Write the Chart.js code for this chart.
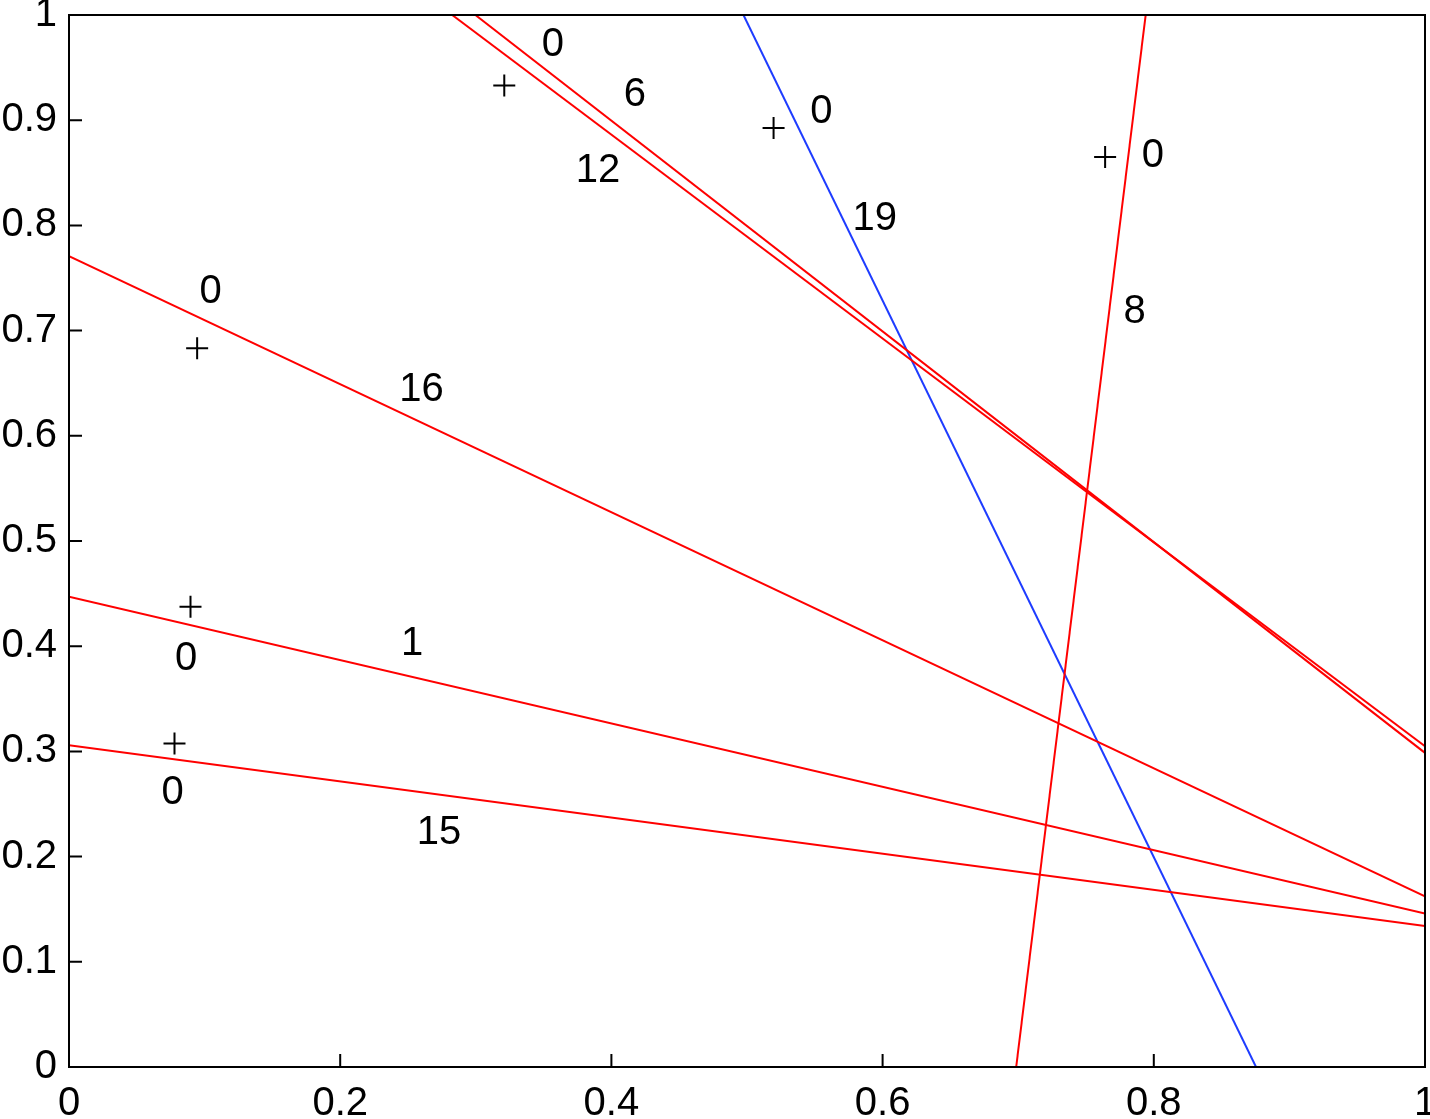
<!DOCTYPE html>
<html>
<head>
<meta charset="utf-8">
<script src="https://cdn.jsdelivr.net/npm/chart.js@4/dist/chart.umd.min.js"></script>
<style>
  body { margin: 0; background: #fff; overflow: hidden; }
  #wrap { width: 1430px; height: 1119px; overflow: hidden; }
</style>
</head>
<body>
<div id="wrap"><canvas id="chart" width="1438" height="1119"></canvas></div>
<script>
// lines (end points, data units)
const line16 = [[0, 0.7707], [1, 0.1622]];
const line1 = [[0, 0.4470], [1, 0.1460]];
const line15 = [[0, 0.3059], [1, 0.1340]];
const line12 = [[0.2826, 1], [1, 0.3050]];
const line6 = [[0.2997, 1], [1, 0.2986]];
const line8 = [[0.6985, 0], [0.7940, 1]];
const line19 = [[0.4974, 1], [0.8754, 0]];

// "+" markers
const markerX = [0.321, 0.5196, 0.7641, 0.0945, 0.0896, 0.0778];
const markerY = [0.933, 0.8926, 0.8651, 0.6833, 0.4375, 0.3075];

// text labels
const labelText = ['0', '6', '12', '0', '19', '0', '8', '0', '16', '1', '0', '0', '15'];
const labelX = [0.3487, 0.4091, 0.3738, 0.5466, 0.5778, 0.7912, 0.7777, 0.0963, 0.2436, 0.2448, 0.0781, 0.0683, 0.2564];
const labelY = [0.9741, 0.9264, 0.8549, 0.9106, 0.8092, 0.8689, 0.7203, 0.7393, 0.6461, 0.4051, 0.3908, 0.2638, 0.2250];

const xTickLabels = ['0', '0.2', '0.4', '0.6', '0.8', '1'];
const yTickLabels = ['0', '0.1', '0.2', '0.3', '0.4', '0.5', '0.6', '0.7', '0.8', '0.9', '1'];

const FONT = '"Liberation Sans", Arial, Helvetica, sans-serif';
const RED = '#ff0000';
const BLUE = '#1e3cff';

function toPts(arr) {
    return arr.map(p => ({ x: p[0], y: p[1] }));
}

function lineSet(pts, color) {
    return {
        data: toPts(pts),
        showLine: true,
        borderColor: color,
        borderWidth: 2,
        pointRadius: 0,
        fill: false
    };
}

// inward ticks, box and text labels
const extras = {
    id: 'extras',
    afterDatasetsDraw(chart) {
        const ctx = chart.ctx;
        const xs = chart.scales.x, ys = chart.scales.y;
        ctx.save();
        ctx.fillStyle = '#000';
        ctx.font = '40px ' + FONT;
        ctx.textAlign = 'left';
        ctx.textBaseline = 'middle';
        labelText.forEach((t, i) => {
            ctx.fillText(t, xs.getPixelForValue(labelX[i]), ys.getPixelForValue(labelY[i]) + 3);
        });
        ctx.restore();
    },
    afterDraw(chart) {
        const ctx = chart.ctx;
        const a = chart.chartArea;
        const xs = chart.scales.x, ys = chart.scales.y;
        ctx.save();
        ctx.strokeStyle = '#000';
        ctx.lineWidth = 2;
        ctx.strokeRect(a.left, a.top, a.right - a.left, a.bottom - a.top);
        ctx.beginPath();
        xs.ticks.forEach(t => {
            const px = xs.getPixelForValue(t.value);
            ctx.moveTo(px, a.bottom);
            ctx.lineTo(px, a.bottom - 13);
        });
        ys.ticks.forEach(t => {
            const py = ys.getPixelForValue(t.value);
            ctx.moveTo(a.left, py);
            ctx.lineTo(a.left + 13, py);
        });
        ctx.stroke();
        ctx.restore();
    }
};

function noPad(scale) {
    scale.paddingTop = 0;
    scale.paddingBottom = 0;
    scale.paddingLeft = 0;
    scale.paddingRight = 0;
}

const ctx = document.getElementById('chart').getContext('2d');
new Chart(ctx, {
    type: 'scatter',
    data: {
        datasets: [
            lineSet(line16, RED),
            lineSet(line1, RED),
            lineSet(line15, RED),
            lineSet(line12, RED),
            lineSet(line6, RED),
            lineSet(line8, RED),
            lineSet(line19, BLUE),
            {
                data: markerX.map((x, i) => ({ x: x, y: markerY[i] })),
                pointStyle: 'cross',
                pointRadius: 11,
                borderColor: '#000',
                borderWidth: 2,
                showLine: false
            }
        ]
    },
    options: {
        responsive: false,
        animation: false,
        events: [],
        layout: { padding: { top: 15, right: 4, left: 0, bottom: 0 } },
        plugins: { legend: { display: false }, tooltip: { enabled: false } },
        scales: {
            x: {
                type: 'linear',
                min: 0,
                max: 1,
                grid: { display: false, drawTicks: false },
                border: { display: true, color: '#000', width: 2 },
                ticks: {
                    stepSize: 0.2,
                    padding: 13,
                    color: '#000',
                    font: { size: 40, family: FONT },
                    maxRotation: 0,
                    autoSkip: false,
                    callback: (v, i) => xTickLabels[i]
                },
                afterFit: s => { s.height = 52; noPad(s); }
            },
            y: {
                type: 'linear',
                min: 0,
                max: 1,
                grid: { display: false, drawTicks: false },
                border: { display: true, color: '#000', width: 2 },
                ticks: {
                    stepSize: 0.1,
                    padding: 12,
                    color: '#000',
                    font: { size: 40, family: FONT },
                    autoSkip: false,
                    callback: (v, i) => yTickLabels[i]
                },
                afterFit: s => { s.width = 69; noPad(s); }
            }
        }
    },
    plugins: [extras]
});
</script>
</body>
</html>
